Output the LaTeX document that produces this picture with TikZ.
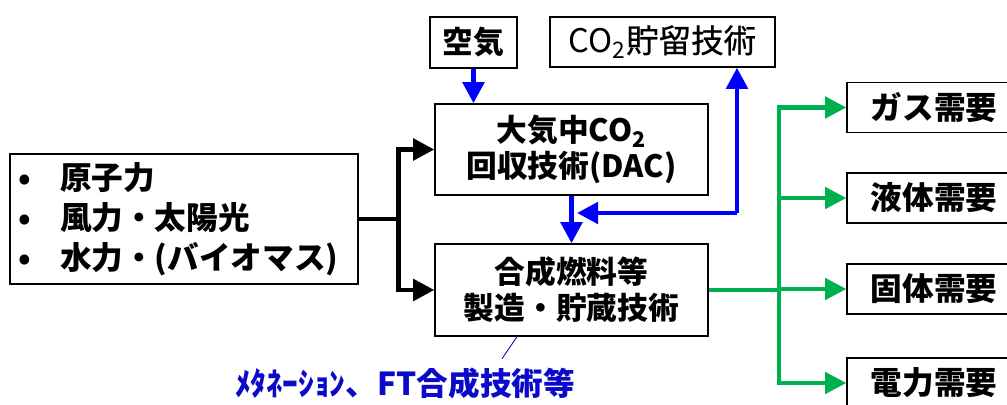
\documentclass[tikz,border=0pt]{standalone}
\usepackage{fontspec}
\setmainfont{Noto Sans CJK JP}
\newfontfamily\midfont{Noto Sans CJK JP}[FakeBold=0.7]
\usepackage{xcolor}
\usetikzlibrary{arrows.meta, positioning}

\definecolor{flowblue}{RGB}{0,0,255}
\definecolor{notblue}{RGB}{10,10,200}
\definecolor{flowgreen}{RGB}{0,176,80}

\newcommand{\itm}[1]{\hspace*{0.15cm}\makebox[0.3cm][c]{•}\hspace{0.55cm}#1}

\begin{document}
\begin{tikzpicture}[x=0.02cm, y=-0.02cm,
		box/.style={draw, line width=0.8pt, fill=white, inner sep=0pt, align=center,
			font=\fontsize{17.5}{20.5}\selectfont\bfseries},
		need/.style={box, minimum width=3.48cm, minimum height=1.0cm, font=\fontsize{18}{20}\selectfont\bfseries},
		tip/.style={-{Triangle[length=12pt, width=12pt]}},
		blk/.style={line width=2.8pt, black},
		blu/.style={line width=2.8pt, flowblue},
		grn/.style={line width=2.4pt, flowgreen}]
	\clip (0,0) rectangle (1007,405);
	% ---------- sources and processes ----------
	\node[box, text width=6.96cm, minimum height=2.6cm, align=left,
		font=\fontsize{18}{22.7}\selectfont\bfseries] (src) at (184,219)
	{\itm{原子力}\\ \itm{風力・太陽光}\\ \itm{水力・(バイオマス)}};
	\node[box, minimum width=1.74cm, minimum height=1.02cm] (air) at (473.5,42.5) {空気};
	\node[box, minimum width=4.5cm, minimum height=1.0cm, font=\fontsize{18.5}{20}\selectfont] (ccs) at (662.5,42)
	{CO\textsubscript{2}{\midfont 貯留技術}};
	\node[box, minimum width=5.46cm, minimum height=1.82cm] (dac) at (571.5,149.5)
	{大気中CO\textsubscript{2}\\回収技術(DAC)};
	\node[box, minimum width=5.46cm, minimum height=1.84cm] (syn) at (571.5,290)
	{合成燃料等\\製造・貯蔵技術};
	% ---------- demands (cut off at the right edge) ----------
	\node[need] (gas) at (934,107.5) {ガス需要};
	\node[need] (liq) at (934,198) {液体需要};
	\node[need] (sol) at (934,289) {固体需要};
	\node[need] (ele) at (934,383) {電力需要};
	% note under the synthesis box
	\node[text=notblue, font=\fontsize{18}{20}\selectfont\bfseries] (note) at (405,383)
	{ﾒﾀﾈｰｼｮﾝ、FT合成技術等};
	\draw[notblue, line width=0.5pt] ([xshift=-1.09cm]syn.south) -- ++(-15,22);
	% ---------- black: power to the two processes ----------
	\draw[blk] (src.east) -- ++(40,0) coordinate (jb);
	\draw[blk, tip] (jb) |- (dac.west);
	\draw[blk, tip] (jb) |- (syn.west);
	% ---------- blue: air and CO2 ----------
	\draw[blu, tip] (air.south) -- (air.south |- dac.north);
	\draw[blu, tip] (dac.south) -- (syn.north);
	\coordinate (jc) at (577,213);
	\draw[blu, tip] ([xshift=1.49cm]ccs.south |- jc) -- (jc);
	\draw[blu, tip] ([xshift=1.49cm]ccs.south |- jc) -- ([xshift=1.49cm]ccs.south);
	% ---------- green: fuels to the demands ----------
	\draw[grn] (syn.east) -- ++(70,0) coordinate (jg);
	\foreach \d in {gas, liq, sol, ele}
		\draw[grn, tip] (jg) |- (\d.west);
\end{tikzpicture}
\end{document}
